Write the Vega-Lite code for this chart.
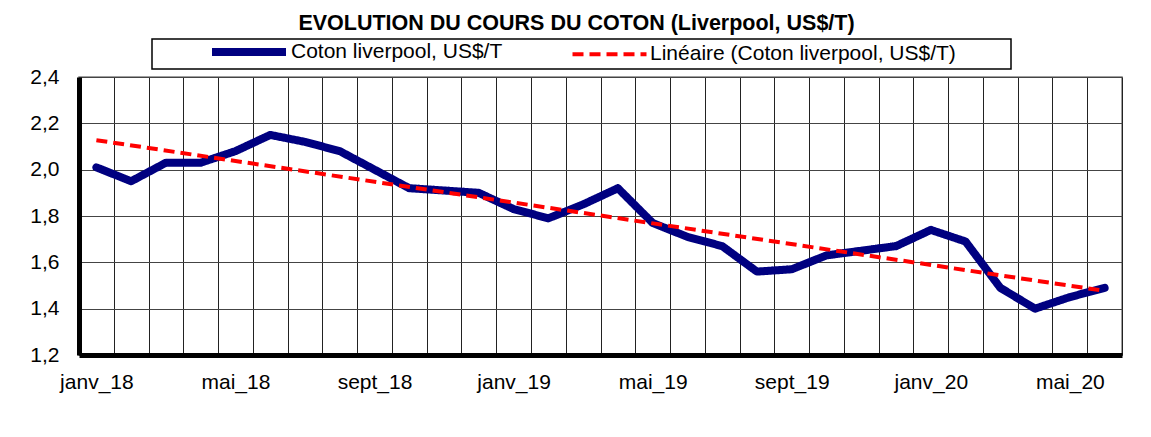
{
  "$schema": "https://vega.github.io/schema/vega-lite/v6.json",
  "autosize": {"type": "none"},
  "padding": {"left": 79, "top": 77, "right": 29, "bottom": 82},
  "width": 1043,
  "height": 278,
  "background": "white",
  "title": {
    "text": "EVOLUTION DU COURS DU COTON  (Liverpool, US$/T)",
    "font": "Liberation Sans",
    "fontSize": 21.5,
    "fontWeight": "bold",
    "color": "black",
    "anchor": "middle",
    "dx": -24,
    "offset": 4
  },
  "data": {
    "values": [
      {"mois": "janv_18", "cours": 2.01},
      {"mois": "févr_18", "cours": 1.95},
      {"mois": "mars_18", "cours": 2.03},
      {"mois": "avr_18", "cours": 2.03},
      {"mois": "mai_18", "cours": 2.08},
      {"mois": "juin_18", "cours": 2.15},
      {"mois": "juil_18", "cours": 2.12},
      {"mois": "août_18", "cours": 2.08},
      {"mois": "sept_18", "cours": 2.00},
      {"mois": "oct_18", "cours": 1.92},
      {"mois": "nov_18", "cours": 1.91},
      {"mois": "déc_18", "cours": 1.90},
      {"mois": "janv_19", "cours": 1.83},
      {"mois": "févr_19", "cours": 1.79},
      {"mois": "mars_19", "cours": 1.85},
      {"mois": "avr_19", "cours": 1.92},
      {"mois": "mai_19", "cours": 1.77},
      {"mois": "juin_19", "cours": 1.71},
      {"mois": "juil_19", "cours": 1.67},
      {"mois": "août_19", "cours": 1.56},
      {"mois": "sept_19", "cours": 1.57},
      {"mois": "oct_19", "cours": 1.63},
      {"mois": "nov_19", "cours": 1.65},
      {"mois": "déc_19", "cours": 1.67},
      {"mois": "janv_20", "cours": 1.74},
      {"mois": "févr_20", "cours": 1.69},
      {"mois": "mars_20", "cours": 1.49},
      {"mois": "avr_20", "cours": 1.40},
      {"mois": "mai_20", "cours": 1.45},
      {"mois": "juin_20", "cours": 1.49}
    ]
  },
  "layer": [
    {
      "mark": {"type": "line", "strokeCap": "round", "strokeJoin": "round"},
      "encoding": {
        "x": {
          "field": "mois",
          "type": "ordinal",
          "sort": null,
          "scale": {"type": "band", "paddingInner": 0, "paddingOuter": 0},
          "axis": {
            "title": null,
            "tickBand": "extent",
            "grid": true,
            "gridColor": "#222222",
            "gridWidth": 1,
            "ticks": false,
            "domainColor": "black",
            "domainWidth": 5,
            "labelAngle": 0,
            "labelPadding": 16,
            "labelFont": "Liberation Sans",
            "labelFontSize": 21,
            "labelColor": "black",
            "labelExpr": "indexof(['janv','mai','sept'], split(datum.value, '_')[0]) >= 0 ? datum.value : ''"
          }
        },
        "y": {
          "field": "cours",
          "type": "quantitative",
          "scale": {"domain": [1.2, 2.4], "nice": false, "zero": false},
          "axis": {
            "title": null,
            "values": [1.2, 1.4, 1.6, 1.8, 2.0, 2.2, 2.4],
            "grid": true,
            "gridColor": "#444444",
            "gridWidth": 1,
            "ticks": false,
            "domainColor": "black",
            "domainWidth": 5,
            "labelPadding": 20,
            "labelFont": "Liberation Sans",
            "labelFontSize": 21,
            "labelColor": "black",
            "labelExpr": "replace(format(datum.value, '.1f'), '.', ',')"
          }
        },
        "color": {
          "datum": "Coton liverpool, US$/T",
          "type": "nominal",
          "scale": {"domain": ["Coton liverpool, US$/T", "Linéaire (Coton liverpool, US$/T)"], "range": ["#000080", "#ff0000"]},
          "legend": {"title": " "}
        },
        "strokeDash": {
          "datum": "Coton liverpool, US$/T",
          "type": "nominal",
          "scale": {"domain": ["Coton liverpool, US$/T", "Linéaire (Coton liverpool, US$/T)"], "range": [[1, 0], [11, 6]]},
          "legend": {"title": " "}
        },
        "strokeWidth": {
          "datum": "Coton liverpool, US$/T",
          "type": "nominal",
          "scale": {"type": "point", "padding": 0, "domain": ["Coton liverpool, US$/T", "Linéaire (Coton liverpool, US$/T)"], "range": [8, 4]},
          "legend": {"title": " "}
        }
      }
    },
    {
      "transform": [
        {"window": [{"op": "row_number", "as": "rang"}]},
        {"regression": "cours", "on": "rang"}
      ],
      "mark": {"type": "line"},
      "encoding": {
        "x": {
          "field": "rang",
          "type": "quantitative",
          "scale": {"domain": [0.5, 30.5], "nice": false, "zero": false},
          "axis": null
        },
        "y": {"field": "cours", "type": "quantitative"},
        "color": {"datum": "Linéaire (Coton liverpool, US$/T)", "type": "nominal", "legend": {"title": " "}},
        "strokeDash": {"datum": "Linéaire (Coton liverpool, US$/T)", "type": "nominal", "legend": {"title": " "}},
        "strokeWidth": {"datum": "Linéaire (Coton liverpool, US$/T)", "type": "nominal", "legend": {"title": " "}}
      }
    }
  ],
  "resolve": {"scale": {"x": "independent"}},
  "config": {
    "font": "Liberation Sans",
    "view": {"stroke": "#808080", "strokeWidth": 1.5},
    "legend": {
      "orient": "none",
      "legendX": 73,
      "legendY": -38,
      "direction": "horizontal",
      "strokeColor": "black",
      "strokeWidth": 1.5,
      "fillColor": "white",
      "padding": 1,
      "symbolType": "M-4.625,0H4.625",
      "symbolSize": 256,
      "symbolOffset": 84,
      "labelOffset": 30,
      "columnPadding": 12,
      "labelFont": "Liberation Sans",
      "labelFontSize": 21,
      "labelColor": "black",
      "labelLimit": 0,
      "titleOrient": "right",
      "titlePadding": 54,
      "titleFontSize": 12
    }
  }
}
